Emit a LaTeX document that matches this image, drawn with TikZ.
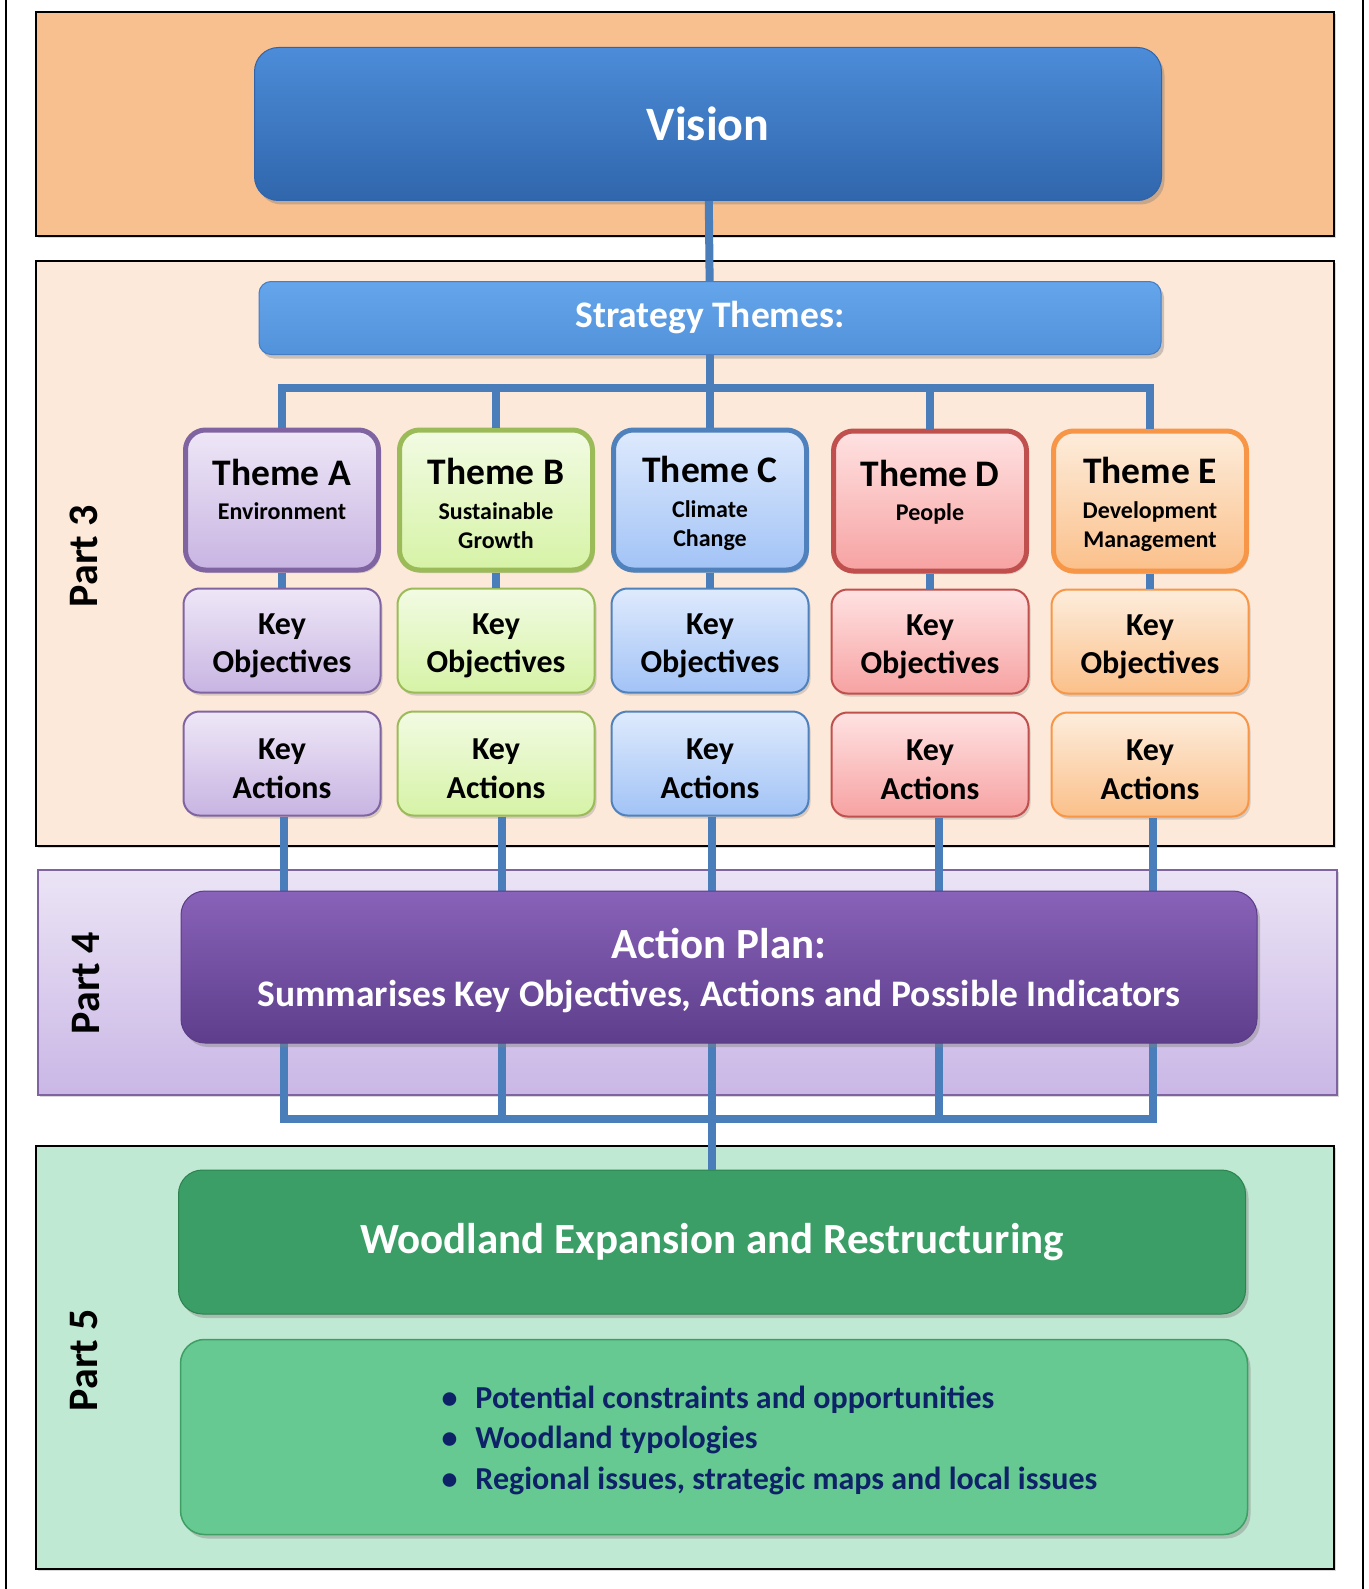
\documentclass[tikz,border=0pt]{standalone}
\usepackage{fontspec}
\setmainfont{Carlito}
\usetikzlibrary{positioning,shadows}

\definecolor{linkblue}{HTML}{4A7EBB}
\definecolor{purpD}{HTML}{8064A2}\definecolor{purpT}{HTML}{EEE7F7}\definecolor{purpB}{HTML}{C8B4E2}
\definecolor{grnD}{HTML}{9BBB59}\definecolor{grnT}{HTML}{F2FBE3}\definecolor{grnB}{HTML}{D6F3A6}
\definecolor{bluD}{HTML}{4F81BD}\definecolor{bluT}{HTML}{DEEAFD}\definecolor{bluB}{HTML}{A2C3F6}
\definecolor{redD}{HTML}{C0504D}\definecolor{redT}{HTML}{FFE2E2}\definecolor{redB}{HTML}{F7A2A2}
\definecolor{orgD}{HTML}{F79646}\definecolor{orgT}{HTML}{FDEDDC}\definecolor{orgB}{HTML}{FBC08A}
\definecolor{navy}{HTML}{0E2268}
\newcommand\keytext[1]{\rule{0pt}{31pt}Key\\#1}
\newcommand\themetext[2]{{\fontsize{37.5}{29.5}\selectfont\rule{0pt}{34pt}Theme #1}\\[5pt]#2}

\begin{document}
\begin{tikzpicture}[x=1pt,y=-1pt,every node/.style={font=\bfseries},
  part/.style={line width=2pt,drop shadow={opacity=.3,shadow xshift=2pt,shadow yshift=-2pt}},
  link/.style={draw=linkblue,line width=8pt},
  big/.style={rounded corners=24pt,text=white,line width=1pt,drop shadow={opacity=.4,shadow xshift=3pt,shadow yshift=-4pt}},
  theme/.style={rounded corners=20pt,line width=5pt,minimum width=193pt,minimum height=140pt,align=center,font=\bfseries\fontsize{24}{29.5}\selectfont,drop shadow={opacity=.3,shadow xshift=2pt,shadow yshift=-3pt}},
  keybox/.style={rounded corners=16pt,line width=2pt,minimum width=197pt,minimum height=104pt,align=center,font=\bfseries\fontsize{32}{38.5}\selectfont,drop shadow={opacity=.3,shadow xshift=2pt,shadow yshift=-3pt}},
  colA/.style={draw=purpD,top color=purpT,bottom color=purpB},
  colB/.style={draw=grnD,top color=grnT,bottom color=grnB},
  colC/.style={draw=bluD,top color=bluT,bottom color=bluB},
  colD/.style={draw=redD,top color=redT,bottom color=redB},
  colE/.style={draw=orgD,top color=orgT,bottom color=orgB},
  partlabel/.style={rotate=90,font=\bfseries\fontsize{42}{42}\selectfont}]
  \useasboundingbox (0,0) rectangle (1368,1589);
  \draw[line width=2.5pt] (6,0) -- (6,1589) (1363,0) -- (1363,1589);
  % panels
  \draw[part,fill={rgb,255:red,249;green,192;blue,143}] (36,12) rectangle (1334,236);
  \draw[part,fill={rgb,255:red,253;green,233;blue,217}] (36,261) rectangle (1334,846);
  \draw[part,line width=1.5pt,draw=purpD,top color={rgb,255:red,235;green,228;blue,245},bottom color={rgb,255:red,202;green,183;blue,230}] (38,870) rectangle (1337,1095);
  \draw[part,fill={rgb,255:red,192;green,233;blue,211}] (36,1146) rectangle (1334,1569);
  \node[partlabel] (p3) at (84,556) {Part 3};
  \node[partlabel] (p4) at (86,983) {Part 4};
  \node[partlabel] (p5) at (84,1360) {Part 5};

  \node[big,draw={rgb,255:red,50;green,100;blue,170},top color={rgb,255:red,76;green,140;blue,216},bottom color={rgb,255:red,48;green,102;blue,172},minimum width=907pt,minimum height=153pt,font=\bfseries\fontsize{48}{48}\selectfont] (vis) at (708,124) {Vision};
  \node[big,rounded corners=12pt,draw={rgb,255:red,70;green,125;blue,195},top color={rgb,255:red,100;green,165;blue,235},bottom color={rgb,255:red,82;green,146;blue,218},minimum width=902pt,minimum height=73pt,font=\bfseries\fontsize{37.5}{37.5}\selectfont] (str) at (710,318) {Strategy Themes:};

  \node[theme,colA] (tA) at (282,500) {\themetext{A}{Environment\\\mbox{}}};
  \node[theme,colB] (tB) at (496,500) {\themetext{B}{Sustainable\\Growth}};
  \node[theme,colC] (tC) at (710,500) {\themetext{C}{Climate\\Change}};
  \node[theme,colD] (tD) at (930,501) {\themetext{D}{People\\\mbox{}}};
  \node[theme,colE] (tE) at (1150,501) {\themetext{E}{Development\\Management}};

  \node[keybox,colA] (oA) [below=15pt of tA] {\keytext{Objectives}};
  \node[keybox,colB] (oB) [below=15pt of tB] {\keytext{Objectives}};
  \node[keybox,colC] (oC) [below=15pt of tC] {\keytext{Objectives}};
  \node[keybox,colD] (oD) [below=15pt of tD] {\keytext{Objectives}};
  \node[keybox,colE] (oE) [below=15pt of tE] {\keytext{Objectives}};
  \node[keybox,colA] (aA) [below=17pt of oA] {\keytext{Actions}};
  \node[keybox,colB] (aB) [below=17pt of oB] {\keytext{Actions}};
  \node[keybox,colC] (aC) [below=17pt of oC] {\keytext{Actions}};
  \node[keybox,colD] (aD) [below=17pt of oD] {\keytext{Actions}};
  \node[keybox,colE] (aE) [below=17pt of oE] {\keytext{Actions}};

  \node[big,draw={rgb,255:red,45;green,130;blue,80},fill={rgb,255:red,58;green,158;blue,102},minimum width=1067pt,minimum height=144pt,font=\bfseries\fontsize{43}{43}\selectfont] (wood) at (712,1242) {Woodland Expansion and Restructuring};
  \node[big,line width=1.5pt,draw={rgb,255:red,62;green,158;blue,99},fill={rgb,255:red,102;green,201;blue,146},minimum width=1067pt,minimum height=195pt] (bul) at (714,1437) {};
  \node[anchor=west,align=left,text=navy,font=\bfseries\fontsize{32}{40.5}\selectfont] (bultxt) at (438,1440)
    {\textbullet\hspace{18pt}Potential constraints and opportunities\\\textbullet\hspace{18pt}Woodland typologies\\\textbullet\hspace{18pt}Regional issues, strategic maps and local issues};

  % connectors
  \coordinate (busT) at (710,388);
  \coordinate (busB) at (712,1119);
  \draw[link] (vis) -- (str);
  \draw[link] (str) -- (busT);
  \draw[link] (tA.north) |- (busT) -| (tE.north);
  \draw[link] (tB.north) -- (tB.north |- busT);
  \draw[link] (tC.north) -- (busT);
  \draw[link] (tD.north) -- (tD.north |- busT);
  \draw[link] (tA) -- (oA); \draw[link] (tB) -- (oB); \draw[link] (tC) -- (oC); \draw[link] (tD) -- (oD); \draw[link] (tE) -- (oE);
  \draw[link] ([xshift=2pt]aA.south) |- (busB) -| ([xshift=3pt]aE.south);
  \draw[link] ([xshift=6pt]aB.south) -- ([xshift=6pt]aB.south |- busB);
  \draw[link] ([xshift=2pt]aC.south) -- (busB);
  \draw[link] ([xshift=9pt]aD.south) -- ([xshift=9pt]aD.south |- busB);
  \draw[link] (busB) -- (wood);

  \node[big,draw={rgb,255:red,90;green,60;blue,135},top color={rgb,255:red,136;green,98;blue,184},bottom color={rgb,255:red,94;green,62;blue,140},minimum width=1076pt,minimum height=152pt,align=center,font=\bfseries\fontsize{37.5}{48}\selectfont] (plan) at (719,967)
    {{\fontsize{43}{48}\selectfont\rule{0pt}{38pt}Action Plan:}\\Summarises Key Objectives, Actions and Possible Indicators};
\end{tikzpicture}
\end{document}
